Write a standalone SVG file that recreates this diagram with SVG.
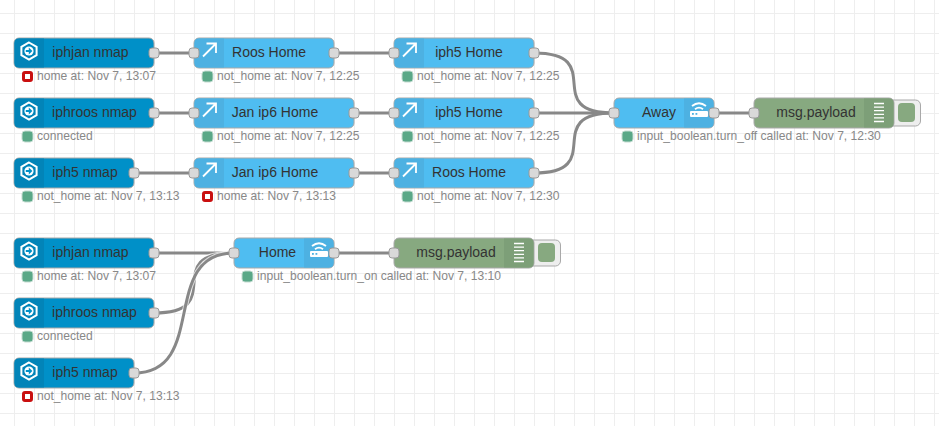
<svg xmlns="http://www.w3.org/2000/svg" width="939" height="426" viewBox="0 0 939 426">
<defs>
<pattern id="grid" width="20" height="20" patternUnits="userSpaceOnUse" x="14" y="13"><path d="M0.5 0V20M0 0.5H20" fill="none" stroke="#eeeeee" stroke-width="1"/></pattern>
<path id="bg-l" d="M5 .5H30V29.5H5Q.5 29.5 .5 25V5Q.5 .5 5 .5Z"/>
<path id="bg-r" d="M0 .5H25Q29.500 .5 29.500 5V25Q29.500 29.500 25 29.500H0Z"/>
<g id="i-in"><path d="M0-8.500L7.600-4.200V4.200L0 8.500L-7.600 4.200V-4.200Z" fill="none" stroke="#fff" stroke-width="2"/><circle r="4.600" fill="#fff"/><path d="M-3.200-1.100H-.2V-3.400L3.400 0L-.2 3.400V1.100H-3.200Z" fill="#0090c8"/></g>
<path id="i-out" d="M-6.500 6.500L6-6M-3-6.500H6.500V3" fill="none" stroke="#fff" stroke-width="1.800"/>
<g id="i-wifi"><path d="M-7-5Q0-10.500 7-5M-4-1.800Q0-5 4-1.800" fill="none" stroke="#fff" stroke-width="1.800"/><rect x="-9" y="0" width="18" height="6" rx="1" fill="#fff"/><rect x="-7" y="2" width="1.800" height="1.800" fill="#4db1e2"/><rect x="-3.500" y="2" width="1.800" height="1.800" fill="#4db1e2"/></g>
<path id="i-debug" d="M-5-9H5M-5-5.400H5M-5-1.800H5M-5 1.800H5M-5 5.400H5M-5 9H5" stroke="#fff" stroke-width="1.300" fill="none"/>
</defs>
<style>
text{font-family:"Liberation Sans",Arial,sans-serif}
.box{stroke:#a9a9a9;stroke-width:1}
.in{fill:#0090c8}.in-i{fill:#0284b8}
.ha{fill:#4fbdf1}.ha-i{fill:#4db1e2}
.dbg{fill:#87a980}.dbg-i{fill:#7d9f78}
.port{fill:#d9d9d9;stroke:#999;stroke-width:1}
.lbl{font-size:14px;fill:#333;text-anchor:middle}
.st{font-size:12.100px;fill:#888}
.ok{fill:#5aa887;stroke:#c3dbd0;stroke-width:1}
.bad{fill:#fff;stroke:#c90f0f;stroke-width:3}
.wire{fill:none;stroke:#888;stroke-width:3}
.halo{fill:none;stroke:#fff;stroke-width:5}
.btn{fill:#eeeeee;stroke:#a9a9a9}
</style>
<rect width="939" height="426" fill="#fff"/>
<rect width="939" height="426" fill="url(#grid)"/>
<g id="connectors">
<path class="wire" d="M154 53H194M334 53H394M154 113H194M354 113H394M134 173H194M354 173H394M714 113H754M534 113H614M154 253H234M334 253H394"/>
<path class="wire" d="M534 53C609 53 539 113 614 113M534 173C609 173 539 113 614 113"/>
<path class="halo" stroke-opacity=".7" d="M154 313C229 313 159 253 234 253"/>
<path class="wire" d="M154 313C229 313 159 253 234 253"/>
<path class="halo" stroke-opacity=".7" d="M134 373C209 373 159 253 234 253"/>
<path class="wire" d="M134 373C209 373 159 253 234 253"/>
</g>
<g id="n1"><rect class="box in" x="14" y="38" width="140" height="30" rx="5"/><use class="in-i" href="#bg-l" x="14" y="38"/><use href="#i-in" x="29" y="51"/><rect class="port" x="149" y="48" width="10" height="10" rx="3"/><text class="lbl" x="90.500" y="57">iphjan nmap</text><rect class="bad" x="23.500" y="72.500" width="8" height="8" rx="1.500"/><text class="st" x="37" y="80">home at: Nov 7, 13:07</text></g>
<g id="n2"><rect class="box ha" x="194" y="38" width="140" height="30" rx="5"/><use class="ha-i" href="#bg-l" x="194" y="38"/><use href="#i-out" x="209.500" y="50"/><rect class="port" x="189" y="48" width="10" height="10" rx="3"/><rect class="port" x="329" y="48" width="10" height="10" rx="3"/><text class="lbl" x="269" y="57">Roos Home</text><rect class="ok" x="202" y="71" width="11" height="11" rx="3"/><text class="st" x="217" y="80">not_home at: Nov 7, 12:25</text></g>
<g id="n3"><rect class="box ha" x="394" y="38" width="140" height="30" rx="5"/><use class="ha-i" href="#bg-l" x="394" y="38"/><use href="#i-out" x="409.500" y="50"/><rect class="port" x="389" y="48" width="10" height="10" rx="3"/><rect class="port" x="529" y="48" width="10" height="10" rx="3"/><text class="lbl" x="469" y="57">iph5 Home</text><rect class="ok" x="402" y="71" width="11" height="11" rx="3"/><text class="st" x="417" y="80">not_home at: Nov 7, 12:25</text></g>
<g id="n4"><rect class="box in" x="14" y="98" width="140" height="30" rx="5"/><use class="in-i" href="#bg-l" x="14" y="98"/><use href="#i-in" x="29" y="111"/><rect class="port" x="149" y="108" width="10" height="10" rx="3"/><text class="lbl" x="94.500" y="117">iphroos nmap</text><rect class="ok" x="22" y="131" width="11" height="11" rx="3"/><text class="st" x="37" y="140">connected</text></g>
<g id="n5"><rect class="box ha" x="194" y="98" width="160" height="30" rx="5"/><use class="ha-i" href="#bg-l" x="194" y="98"/><use href="#i-out" x="209.500" y="110"/><rect class="port" x="189" y="108" width="10" height="10" rx="3"/><rect class="port" x="349" y="108" width="10" height="10" rx="3"/><text class="lbl" x="275" y="117">Jan ip6 Home</text><rect class="ok" x="202" y="131" width="11" height="11" rx="3"/><text class="st" x="217" y="140">not_home at: Nov 7, 12:25</text></g>
<g id="n6"><rect class="box ha" x="394" y="98" width="140" height="30" rx="5"/><use class="ha-i" href="#bg-l" x="394" y="98"/><use href="#i-out" x="409.500" y="110"/><rect class="port" x="389" y="108" width="10" height="10" rx="3"/><rect class="port" x="529" y="108" width="10" height="10" rx="3"/><text class="lbl" x="469" y="117">iph5 Home</text><rect class="ok" x="402" y="131" width="11" height="11" rx="3"/><text class="st" x="417" y="140">not_home at: Nov 7, 12:25</text></g>
<g id="n7"><rect class="box in" x="14" y="158" width="120" height="30" rx="5"/><use class="in-i" href="#bg-l" x="14" y="158"/><use href="#i-in" x="29" y="171"/><rect class="port" x="129" y="168" width="10" height="10" rx="3"/><text class="lbl" x="85" y="177">iph5 nmap</text><rect class="ok" x="22" y="191" width="11" height="11" rx="3"/><text class="st" x="37" y="200">not_home at: Nov 7, 13:13</text></g>
<g id="n8"><rect class="box ha" x="194" y="158" width="160" height="30" rx="5"/><use class="ha-i" href="#bg-l" x="194" y="158"/><use href="#i-out" x="209.500" y="170"/><rect class="port" x="189" y="168" width="10" height="10" rx="3"/><rect class="port" x="349" y="168" width="10" height="10" rx="3"/><text class="lbl" x="275" y="177">Jan ip6 Home</text><rect class="bad" x="203.500" y="192.500" width="8" height="8" rx="1.500"/><text class="st" x="217" y="200">home at: Nov 7, 13:13</text></g>
<g id="n9"><rect class="box ha" x="394" y="158" width="140" height="30" rx="5"/><use class="ha-i" href="#bg-l" x="394" y="158"/><use href="#i-out" x="409.500" y="170"/><rect class="port" x="389" y="168" width="10" height="10" rx="3"/><rect class="port" x="529" y="168" width="10" height="10" rx="3"/><text class="lbl" x="469" y="177">Roos Home</text><rect class="ok" x="402" y="191" width="11" height="11" rx="3"/><text class="st" x="417" y="200">not_home at: Nov 7, 12:30</text></g>
<g id="n10"><rect class="box ha" x="614" y="98" width="100" height="30" rx="5"/><use class="ha-i" href="#bg-r" x="684" y="98"/><use href="#i-wifi" x="699" y="111"/><rect class="port" x="609" y="108" width="10" height="10" rx="3"/><rect class="port" x="709" y="108" width="10" height="10" rx="3"/><text class="lbl" x="659" y="117">Away</text><rect class="ok" x="622" y="131" width="11" height="11" rx="3"/><text class="st" x="637" y="140">input_boolean.turn_off called at: Nov 7, 12:30</text></g>
<g id="n11"><rect class="btn" x="880.500" y="100" width="40" height="26" rx="5"/><rect class="dbg" x="898" y="103" width="17" height="19" rx="4"/><rect class="box dbg" x="754" y="98" width="140" height="30" rx="5"/><use class="dbg-i" href="#bg-r" x="864" y="98"/><use href="#i-debug" x="879" y="112.500"/><rect class="port" x="749" y="108" width="10" height="10" rx="3"/><text class="lbl" x="816" y="117">msg.payload</text></g>
<g id="n12"><rect class="box in" x="14" y="238" width="140" height="30" rx="5"/><use class="in-i" href="#bg-l" x="14" y="238"/><use href="#i-in" x="29" y="251"/><rect class="port" x="149" y="248" width="10" height="10" rx="3"/><text class="lbl" x="90.500" y="257">iphjan nmap</text><rect class="ok" x="22" y="271" width="11" height="11" rx="3"/><text class="st" x="37" y="280">home at: Nov 7, 13:07</text></g>
<g id="n13"><rect class="box in" x="14" y="298" width="140" height="30" rx="5"/><use class="in-i" href="#bg-l" x="14" y="298"/><use href="#i-in" x="29" y="311"/><rect class="port" x="149" y="308" width="10" height="10" rx="3"/><text class="lbl" x="94.500" y="317">iphroos nmap</text><rect class="ok" x="22" y="331" width="11" height="11" rx="3"/><text class="st" x="37" y="340">connected</text></g>
<g id="n14"><rect class="box in" x="14" y="358" width="120" height="30" rx="5"/><use class="in-i" href="#bg-l" x="14" y="358"/><use href="#i-in" x="29" y="371"/><rect class="port" x="129" y="368" width="10" height="10" rx="3"/><text class="lbl" x="85" y="377">iph5 nmap</text><rect class="bad" x="23.500" y="392.500" width="8" height="8" rx="1.500"/><text class="st" x="37" y="400">not_home at: Nov 7, 13:13</text></g>
<g id="n15"><rect class="box ha" x="234" y="238" width="100" height="30" rx="5"/><use class="ha-i" href="#bg-r" x="304" y="238"/><use href="#i-wifi" x="319" y="251"/><rect class="port" x="229" y="248" width="10" height="10" rx="3"/><rect class="port" x="329" y="248" width="10" height="10" rx="3"/><text class="lbl" x="277.500" y="257">Home</text><rect class="ok" x="242" y="271" width="11" height="11" rx="3"/><text class="st" x="257" y="280">input_boolean.turn_on called at: Nov 7, 13:10</text></g>
<g id="n16"><rect class="btn" x="520.500" y="240" width="40" height="26" rx="5"/><rect class="dbg" x="538" y="243" width="17" height="19" rx="4"/><rect class="box dbg" x="394" y="238" width="140" height="30" rx="5"/><use class="dbg-i" href="#bg-r" x="504" y="238"/><use href="#i-debug" x="519" y="252.500"/><rect class="port" x="389" y="248" width="10" height="10" rx="3"/><text class="lbl" x="456" y="257">msg.payload</text></g>
</svg>
